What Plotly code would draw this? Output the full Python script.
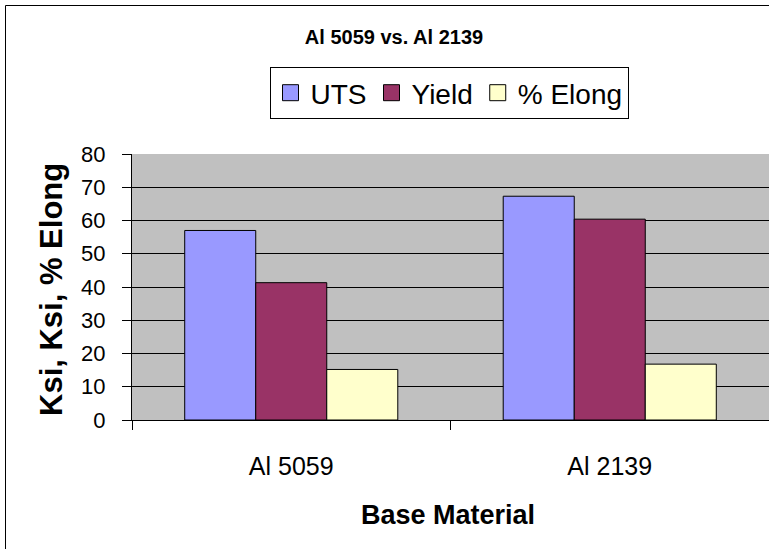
import plotly.graph_objects as go

categories = ["Al 5059", "Al 2139"]
uts = [57, 67.3]
yield_ = [41.3, 60.4]
elong = [15.2, 16.8]
series_names = ["UTS", "Yield", "% Elong"]
colors = ["#9999FF", "#993366", "#FFFFCC"]

W, H = 769, 549
L, R, T, B = 132, 0, 154, 129
pw, ph = W - L - R, H - T - B


def px_x(x):
    return (x - L) / pw


def px_y(y):
    return (H - B - y) / ph


fig = go.Figure()
for name, vals, c in zip(series_names, [uts, yield_, elong], colors):
    fig.add_trace(go.Bar(x=categories, y=vals, name=name, showlegend=False,
                         marker=dict(color=c, line=dict(color="black", width=1))))
# legend entries with larger square swatches
for name, c in zip(series_names, colors):
    fig.add_trace(go.Scatter(x=[None], y=[None], name=name, mode="markers",
                             marker=dict(symbol="square", size=16, color=c,
                                         line=dict(color="black", width=1))))

font = "Liberation Sans, Arial, sans-serif"
fig.update_layout(
    width=W, height=H,
    margin=dict(l=L, r=R, t=T, b=B),
    paper_bgcolor="white", plot_bgcolor="#C0C0C0",
    barmode="group", bargap=0.331, bargroupgap=0,
    font=dict(family=font, color="black"),
    showlegend=True,
    title=dict(text="<b>Al 5059 vs. Al 2139</b>", font=dict(size=20, family=font, color="black"),
               x=394 / W, xanchor="center", y=1 - 37 / H, yanchor="middle", xref="container"),
    legend=dict(orientation="h", x=px_x(449), xanchor="center", y=px_y(67), yanchor="top",
                bgcolor="white", bordercolor="black", borderwidth=1, itemsizing="trace",
                font=dict(size=28, family=font, color="black"), traceorder="normal"),
    xaxis=dict(range=[-0.5, 1.5], categoryorder="array", categoryarray=categories,
               showline=True, linecolor="black", linewidth=1,
               ticks="outside", tickson="boundaries", ticklen=9, tickcolor="black",
               tickfont=dict(size=25, family=font), ticklabelstandoff=24,
               showgrid=False, zeroline=False),
    yaxis=dict(range=[0, 80], dtick=10, showline=True, linecolor="black", linewidth=1,
               ticks="outside", ticklen=9, tickcolor="black",
               tickfont=dict(size=22, family=font), ticklabelstandoff=12,
               showgrid=True, gridcolor="black", gridwidth=1, zeroline=False),
    annotations=[
        dict(text="<b>Ksi, Ksi, % Elong</b>", textangle=-90, xref="paper", yref="paper",
             x=px_x(51), y=px_y(290), showarrow=False, xanchor="center", yanchor="middle",
             font=dict(size=31, family=font, color="black")),
        dict(text="<b>Base Material</b>", xref="paper", yref="paper",
             x=px_x(448), y=px_y(515), showarrow=False, xanchor="center", yanchor="middle",
             font=dict(size=27, family=font, color="black")),
    ],
    shapes=[
        dict(type="rect", xref="paper", yref="paper", x0=px_x(5.5), y0=-1, x1=1.5, y1=px_y(5.5),
             line=dict(color="black", width=1), fillcolor="rgba(0,0,0,0)", layer="above"),
    ],
)

fig.write_html("out.html", config={"displayModeBar": False},
               post_script="document.body.style.margin='0';")
